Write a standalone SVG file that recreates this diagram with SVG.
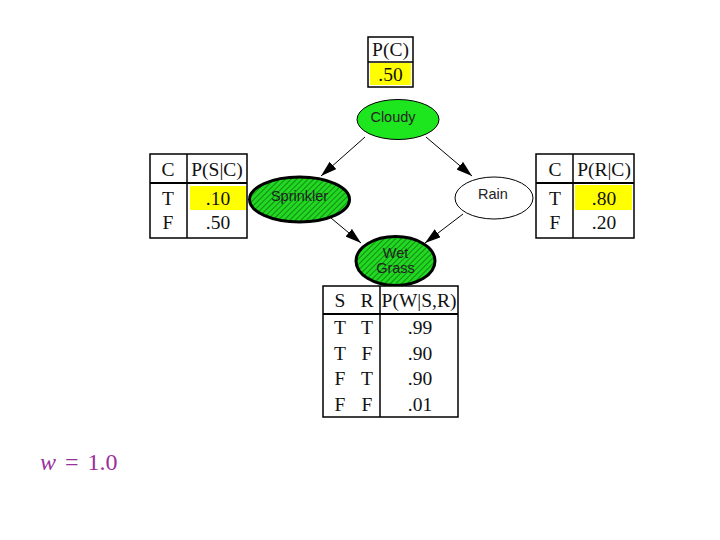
<svg xmlns="http://www.w3.org/2000/svg" width="720" height="540" viewBox="0 0 720 540">
<defs>
<pattern id="hatch" width="4" height="4" patternUnits="userSpaceOnUse" patternTransform="rotate(45)">
<rect width="4" height="4" fill="#22d822"/>
<line x1="0" y1="0" x2="0" y2="4" stroke="#0b6a0b" stroke-width="1.4"/>
</pattern>
<marker id="arr2" viewBox="0 0 16 10" refX="16" refY="5" markerWidth="16" markerHeight="10" markerUnits="userSpaceOnUse" orient="auto">
<path d="M0,0 L16,5 L0,10 Z" fill="#000"/>
</marker>
</defs>
<style>
.tb{fill:#fff;stroke:#000;stroke-width:1.5}
.ln{stroke:#000;stroke-width:1.5;fill:none}
.hl{stroke:#000;stroke-width:2.2;fill:none}
.yl{fill:#ffff00}
.t{font-family:"Liberation Serif","Times New Roman",serif;font-size:19.5px;fill:#111;text-anchor:middle}
.n{font-family:"Liberation Sans",Arial,sans-serif;font-size:14.5px;fill:#222;text-anchor:middle}
.e{stroke:#000;stroke-width:1;fill:none}
</style>
<rect width="720" height="540" fill="#fff"/>

<g id="connectors">
<line class="e" x1="365" y1="137" x2="321" y2="176" marker-end="url(#arr2)"/>
<line class="e" x1="426" y1="137" x2="472" y2="176" marker-end="url(#arr2)"/>
<line class="e" x1="331" y1="218" x2="361" y2="243" marker-end="url(#arr2)"/>
<line class="e" x1="463" y1="214" x2="425" y2="243" marker-end="url(#arr2)"/>
</g>

<g id="table-pc">
<rect class="tb" x="368" y="37" width="45" height="50"/>
<rect class="yl" x="370" y="63" width="41" height="22"/>
<line class="ln" x1="368" y1="62" x2="413" y2="62"/>
<text class="t" x="390.5" y="56">P(C)</text>
<text class="t" x="390.5" y="81">.50</text>
</g>

<g id="cloudy">
<ellipse cx="398" cy="119.5" rx="41" ry="20" fill="#1ee61e" stroke="#000" stroke-width="1"/>
<text class="n" x="393" y="122">Cloudy</text>
</g>

<g id="sprinkler">
<ellipse cx="299.5" cy="199.5" rx="50" ry="22.5" fill="url(#hatch)" stroke="#000" stroke-width="3"/>
<text class="n" x="299.5" y="201" fill="#1a3a1a">Sprinkler</text>
</g>

<g id="rain">
<ellipse cx="494" cy="198" rx="39" ry="21" fill="#fff" stroke="#000" stroke-width="1"/>
<text class="n" x="493" y="199">Rain</text>
</g>

<g id="wetgrass">
<ellipse cx="395.5" cy="261" rx="39.5" ry="24.5" fill="url(#hatch)" stroke="#000" stroke-width="3"/>
<text class="n" x="395.5" y="258" fill="#1a3a1a">Wet</text>
<text class="n" x="395.5" y="273" fill="#1a3a1a">Grass</text>
</g>

<g id="table-ps">
<rect class="tb" x="150" y="154" width="97" height="84"/>
<rect class="yl" x="190" y="186" width="56" height="24"/>
<line class="ln" x1="187" y1="154" x2="187" y2="238"/>
<line class="hl" x1="150" y1="183" x2="247" y2="183"/>
<text class="t" x="168" y="176">C</text>
<text class="t" x="217" y="176">P(S|C)</text>
<text class="t" x="168" y="205">T</text>
<text class="t" x="218" y="205">.10</text>
<text class="t" x="168" y="229">F</text>
<text class="t" x="218" y="229">.50</text>
</g>

<g id="table-pr">
<rect class="tb" x="536" y="154" width="98" height="84"/>
<rect class="yl" x="575" y="185" width="57" height="25"/>
<line class="ln" x1="573" y1="154" x2="573" y2="238"/>
<line class="hl" x1="536" y1="183" x2="634" y2="183"/>
<text class="t" x="555" y="176">C</text>
<text class="t" x="604" y="176">P(R|C)</text>
<text class="t" x="555" y="205">T</text>
<text class="t" x="604" y="205">.80</text>
<text class="t" x="555" y="229">F</text>
<text class="t" x="604" y="229">.20</text>
</g>

<g id="table-pw">
<rect class="tb" x="323" y="286" width="135" height="131"/>
<line class="ln" x1="380" y1="286" x2="380" y2="417"/>
<line class="hl" x1="323" y1="314" x2="458" y2="314"/>
<text class="t" x="340" y="307">S</text>
<text class="t" x="367" y="307">R</text>
<text class="t" x="419" y="307">P(W|S,R)</text>
<text class="t" x="340" y="334">T</text><text class="t" x="367" y="334">T</text><text class="t" x="420" y="334">.99</text>
<text class="t" x="340" y="360">T</text><text class="t" x="367" y="360">F</text><text class="t" x="420" y="360">.90</text>
<text class="t" x="340" y="385">F</text><text class="t" x="367" y="385">T</text><text class="t" x="420" y="385">.90</text>
<text class="t" x="340" y="411">F</text><text class="t" x="367" y="411">F</text><text class="t" x="420" y="411">.01</text>
</g>

<g id="weight">
<text x="40" y="470" font-family="'Liberation Serif','Times New Roman',serif" font-size="24" fill="#9a309a"><tspan font-style="italic">w</tspan><tspan dx="9">=</tspan><tspan dx="9">1.0</tspan></text>
</g>
</svg>
